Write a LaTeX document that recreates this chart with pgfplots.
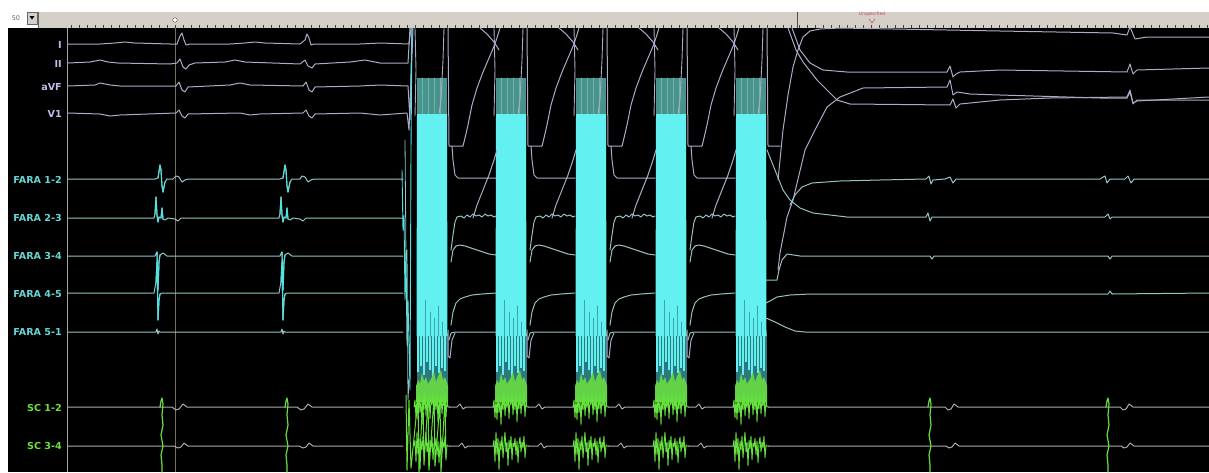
\documentclass[border=0pt]{standalone}
\usepackage{pgfplots}
\usepackage{pgfplotstable}
\pgfplotsset{compat=1.18}
\usepackage{fontspec}
\setmainfont{DejaVu Sans}
\definecolor{ecg}{RGB}{172,172,200}
\definecolor{faraLine}{RGB}{150,196,196}
\definecolor{faraSpike}{RGB}{80,225,225}
\definecolor{scLine}{RGB}{172,172,172}
\definecolor{scSpike}{RGB}{100,225,60}
\definecolor{cyanBlk}{RGB}{98,240,240}
\definecolor{tealBlk}{RGB}{72,148,140}
\definecolor{tealLite}{RGB}{110,180,172}
\definecolor{stripeDark}{RGB}{45,120,125}
\definecolor{stripeMid}{RGB}{60,165,172}
\definecolor{greenBlk}{RGB}{100,210,70}
\definecolor{barGrey}{RGB}{212,208,200}
\definecolor{ecgLab}{RGB}{190,190,232}
\definecolor{faraLab}{RGB}{100,214,214}
\definecolor{scLab}{RGB}{112,222,62}
\definecolor{cursorC}{RGB}{120,112,92}
\definecolor{unspec}{RGB}{190,70,110}

% ---------- block templates (x relative to the block's left edge) ----------
\pgfplotstableread{
x y
0 78
30 78
30 114
0 114
}\tealtbl
\pgfplotstableread{
x y
5 78
5 114
11 nan
11 78
11 114
17 nan
17 78
17 114
23 nan
23 78
23 114
}\teallines
\pgfplotstableread{
x y
0 114
30 114
30.5 336
-0.5 336
}\cyantbl
\pgfplotstableread{
x y
8 300
8 336
13 nan
13 312
13 336
17 nan
17 318
17 336
21 nan
21 306
21 336
25 nan
25 322
25 336
}\darklines
\pgfplotstableread{
x y
-0.5 334
30.5 334
30.5 388
-0.5 388
}\stripetbl
\pgfplotstableread{
x y
1 334
1 372
4 nan
4 334
4 366
7 nan
7 334
7 375
10 nan
10 334
10 362
13 nan
13 334
13 370
16 nan
16 334
16 376
19 nan
19 334
19 366
22 nan
22 334
22 373
25 nan
25 334
25 368
28 nan
28 334
28 371
}\cyanlines
\pgfplotstableread{
x y
-1 402
-1 386
1 380
3 384
5 373
7 381
9 377
11 384
14 379
17 372
19 382
21 376
24 370
26 380
28 377
31 386
31 402
}\greentbl
\pgfplotstableread{
x y
-3 407
-2 400
-1 418
0 398
1 420
2 395
3 413
4 399
5 425
6 396
7 410
8 392
9 416
10 398
11 408
12 395
13 419
14 399
15 405
16 393
17 415
18 397
19 410
20 394
21 422
22 398
23 409
24 395
25 414
26 399
27 406
28 394
29 417
30 400
31 407
33 407
}\scnoiseA
\pgfplotstableread{
x y
-3 446
-2 440
-1 462
0 432
1 455
2 438
3 470
4 441
5 450
6 436
7 458
8 444
9 432
10 452
11 442
12 466
13 440
14 449
15 436
16 460
17 443
18 447
19 438
20 455
21 441
22 463
23 444
24 437
25 452
26 442
27 448
28 436
29 458
30 445
31 446
33 446
}\scnoiseB
\pgfplotstableread{
x y
-2 28
-1 70
-2 116
27 nan
27 28
26 60
24 100
22 114
}\lavtbl

% ---------- gap templates (x relative to the block's right edge) ----------
\pgfplotstableread{
x y
1 28
2 146
16 146
18 138
21 125
25 105
30 88
36 72
42 58
48 44
53 28
33 nan
33 28
40 34
47 42
52 50
5 nan
5 146
6 160
8 175
11 178
49 178
26 nan
26 218
30 205
36 190
42 175
47 160
50 150
1 nan
1 330
1 356
3 358
5 340
8 333
}\gapgrey
\pgfplotstableread{
x y
4 250
6 235
8 222
10 217
14 216
17 218
20 215
23 217
26 214
29 216
32 215
35 217
38 214
41 216
44 215
47 217
49 216
4 nan
4 262
6 250
9 246
13 245
18 246
24 248
30 250
36 252
42 254
49 255
4 nan
4 325
6 312
9 303
13 299
18 297
25 295
35 294
49 293
2 nan
2 340
4 333
8 332
49 332
}\gapfara
\pgfplotstableread{
x y
2 407
10 407
13 404
16 409
19 407
49 407
2 nan
2 446
12 446
15 443
18 448
21 446
49 446
}\gapsc

\begin{document}
\begin{tikzpicture}
\begin{axis}[
  scale only axis, width=1209pt, height=472pt,
  xmin=0, xmax=1209, ymin=0, ymax=472, y dir=reverse,
  hide axis, clip=true, unbounded coords=jump,
  blk/.style={x filter/.expression={x+#1}},
  every axis plot/.append style={line join=round, line cap=round, mark=none},
  tr/.style={line width=1pt},
]
% backgrounds (decor)
\fill[white] (0,0) rectangle (1209,472);
\fill[barGrey] (38,12) rectangle (1209,28);
\draw[black!70, line width=0.6pt] (38,28) -- (1209,28);
\fill[black] (8,28) rectangle (1209,472);
\pgfplotsinvokeforeach{71,79,...,1207}{\draw[black!75, line width=0.5pt] (#1,25) -- (#1,28);}
\draw[black!70, line width=0.8pt] (797,12) -- (797,28);
\draw[black!60, line width=0.5pt] (38,12) -- (38,28);
\node[font=\fontsize{6.5}{7}\selectfont, text=black!60] at (16,18) {50};
\fill[barGrey] (27,12) rectangle (37,24);
\draw[black!60, line width=0.4pt] (27,12) rectangle (37,24);
\fill[black] (29.5,16) -- (34.5,16) -- (32,19.5) -- cycle;
\node[font=\fontsize{4.5}{5}\selectfont, text=unspec] at (872,14) {Unspecified};
\draw[unspec, line width=0.5pt] (869,19) -- (872,23) -- (875,19);
\draw[gray!70, line width=1pt] (67,28) -- (67,472);
\draw[cursorC, line width=0.8pt] (175,28) -- (175,472);
\draw[black!70, fill=white, line width=0.4pt] (175,20) circle (2.3pt);

% channel labels
\begin{scope}[every node/.style={anchor=east, font=\bfseries\fontsize{9.6}{10}\selectfont, inner sep=0pt}]
\node[text=ecgLab] at (62,45) {I};
\node[text=ecgLab] at (62,64) {II};
\node[text=ecgLab] at (62,87) {aVF};
\node[text=ecgLab] at (62,114) {V1};
\node[text=faraLab] at (62,180) {FARA 1-2};
\node[text=faraLab] at (62,218) {FARA 2-3};
\node[text=faraLab] at (62,256) {FARA 3-4};
\node[text=faraLab] at (62,294) {FARA 4-5};
\node[text=faraLab] at (62,332) {FARA 5-1};
\node[text=scLab] at (62,408) {SC 1-2};
\node[text=scLab] at (62,446) {SC 3-4};
\end{scope}

% ---------- surface ECG before ablation ----------
\addplot[ecg, tr] coordinates {(68,44) (100,44) (115,43) (125,42) (135,43) (170,44) (177,44) (180,36) (182,33) (184,40) (186,45) (190,44) (230,44) (245,43) (255,42) (265,43) (300,44) (305,40) (307,34) (309,38) (311,45) (314,44) (360,44) (380,43) (409,44) (411,28)};
\addplot[ecg, tr] coordinates {(68,63) (90,62) (100,60) (108,62) (118,63) (170,64) (177,63) (180,59) (183,67) (186,69) (189,65) (195,63) (225,62) (235,60) (245,62) (300,64) (305,60) (308,66) (312,68) (315,64) (350,62) (365,60) (380,63) (408,63) (410,28)};
\addplot[ecg, tr] coordinates {(68,86) (95,85) (100,83) (110,85) (120,86) (176,86) (179,82) (182,90) (185,92) (188,87) (230,85) (240,83) (250,85) (303,86) (306,82) (309,90) (312,92) (315,87) (360,86) (380,85) (408,86) (410,120) (412,28)};
\addplot[ecg, tr] coordinates {(68,113) (100,114) (110,116) (120,115) (176,113) (179,110) (182,116) (185,118) (188,114) (240,113) (250,115) (260,114) (303,113) (306,110) (309,116) (312,118) (315,114) (360,113) (380,115) (407,113) (409,130) (413,28)};

% ---------- intracardiac before ablation ----------
\addplot[faraLine, tr] coordinates {(68,179) (155,179) (158,178) (160,165) (161,170) (162,186) (163,192) (165,182) (167,179) (173,179) (176,176) (179,177) (182,182) (185,180) (188,179) (280,179) (283,178) (285,165) (286,170) (287,186) (288,192) (290,182) (292,179) (300,179) (302,176) (305,177) (308,182) (311,180) (314,179) (403,179)};
\addplot[faraLine, tr] coordinates {(68,218) (154,218) (155,214) (156,197) (157,215) (158,222) (159,217) (161,218) (162,208) (163,219) (165,220) (168,218) (175,219) (178,221) (181,218) (279,218) (280,214) (281,197) (282,215) (283,222) (284,217) (286,218) (287,208) (288,219) (290,220) (293,218) (300,219) (303,221) (306,218) (403,218)};
\addplot[faraLine, tr] coordinates {(68,256) (155,256) (156,254) (157,252) (158,290) (159,262) (160,255) (163,253) (167,256) (280,256) (281,254) (282,252) (283,290) (284,262) (285,255) (288,253) (292,256) (403,256)};
\addplot[faraLine, tr] coordinates {(68,293) (154,293) (156,282) (157,262) (158,320) (159,300) (160,294) (162,293) (279,293) (281,282) (282,262) (283,320) (284,300) (285,294) (287,293) (403,293)};
\addplot[faraLine, tr] coordinates {(68,332) (156,332) (157,329) (158,334) (159,331) (160,332) (281,332) (282,329) (283,334) (284,331) (285,332) (403,332)};
\addplot[faraSpike, line width=1.1pt] coordinates {(158,178) (160,165) (161,170) (162,186) (163,192) (165,182) (155,nan) (155,214) (156,197) (157,215) (158,222) (159,217) (161,218) (162,208) (163,219) (156,nan) (156,254) (157,252) (158,290) (159,262) (160,255) (156,nan) (156,282) (157,262) (158,320) (159,300) (160,294) (283,nan) (283,178) (285,165) (286,170) (287,186) (288,192) (290,182) (280,nan) (280,214) (281,197) (282,215) (283,222) (284,217) (286,218) (287,208) (288,219) (281,nan) (281,254) (282,252) (283,290) (284,262) (285,255) (281,nan) (281,282) (282,262) (283,320) (284,300) (285,294)};

\addplot[scLine, tr] coordinates {(68,407) (159,407) (165,407) (172,407) (176,410) (179,409) (183,404) (187,407) (284,407) (290,407) (297,407) (301,410) (304,409) (308,404) (312,407) (403,407)};
\addplot[scLine, tr] coordinates {(68,446) (159,446) (165,446) (174,446) (178,448) (181,447) (184,443) (188,446) (284,446) (290,446) (299,446) (303,448) (306,447) (309,443) (313,446) (403,446)};
\addplot[scSpike, line width=1.2pt] coordinates {(160,407) (161,401) (162,398) (163,404) (162,415) (163,425) (161,435) (163,446) (161,455) (162,465) (162,472) (285,nan) (285,407) (286,401) (287,398) (288,404) (287,415) (288,425) (286,435) (288,446) (286,455) (287,465) (287,472)};

% pre-block clutter
\addplot[faraSpike, line width=0.9pt] coordinates {(402,170) (403,230) (404,215) (405,300) (406,250) (407,345) (408,300) (410,390) (411,150) (412,28)};
\addplot[faraLine, line width=0.8pt] coordinates {(405,140) (406,260) (407,250) (408,400) (409,380)};

% ---------- stimulation blocks ----------
\addplot[fill=stripeDark, draw=none, blk=417] table {\stripetbl};
\addplot[fill=stripeDark, draw=none, blk=496] table {\stripetbl};
\addplot[fill=stripeDark, draw=none, blk=576] table {\stripetbl};
\addplot[fill=stripeDark, draw=none, blk=656] table {\stripetbl};
\addplot[fill=stripeDark, draw=none, blk=736] table {\stripetbl};
\addplot[cyanBlk, line width=2pt, line cap=butt, blk=417] table {\cyanlines};
\addplot[cyanBlk, line width=2pt, line cap=butt, blk=496] table {\cyanlines};
\addplot[cyanBlk, line width=2pt, line cap=butt, blk=576] table {\cyanlines};
\addplot[cyanBlk, line width=2pt, line cap=butt, blk=656] table {\cyanlines};
\addplot[cyanBlk, line width=2pt, line cap=butt, blk=736] table {\cyanlines};
\addplot[fill=tealBlk, draw=none, blk=417] table {\tealtbl};
\addplot[fill=tealBlk, draw=none, blk=496] table {\tealtbl};
\addplot[fill=tealBlk, draw=none, blk=576] table {\tealtbl};
\addplot[fill=tealBlk, draw=none, blk=656] table {\tealtbl};
\addplot[fill=tealBlk, draw=none, blk=736] table {\tealtbl};
\addplot[tealLite, line width=1pt, blk=417] table {\teallines};
\addplot[tealLite, line width=1pt, blk=496] table {\teallines};
\addplot[tealLite, line width=1pt, blk=576] table {\teallines};
\addplot[tealLite, line width=1pt, blk=656] table {\teallines};
\addplot[tealLite, line width=1pt, blk=736] table {\teallines};
\addplot[fill=cyanBlk, draw=none, blk=417] table {\cyantbl};
\addplot[fill=cyanBlk, draw=none, blk=496] table {\cyantbl};
\addplot[fill=cyanBlk, draw=none, blk=576] table {\cyantbl};
\addplot[fill=cyanBlk, draw=none, blk=656] table {\cyantbl};
\addplot[fill=cyanBlk, draw=none, blk=736] table {\cyantbl};
\addplot[stripeMid, line width=1pt, blk=417] table {\darklines};
\addplot[stripeMid, line width=1pt, blk=496] table {\darklines};
\addplot[stripeMid, line width=1pt, blk=576] table {\darklines};
\addplot[stripeMid, line width=1pt, blk=656] table {\darklines};
\addplot[stripeMid, line width=1pt, blk=736] table {\darklines};
\addplot[fill=greenBlk, draw=none, blk=417] table {\greentbl};
\addplot[fill=greenBlk, draw=none, blk=496] table {\greentbl};
\addplot[fill=greenBlk, draw=none, blk=576] table {\greentbl};
\addplot[fill=greenBlk, draw=none, blk=656] table {\greentbl};
\addplot[fill=greenBlk, draw=none, blk=736] table {\greentbl};
\addplot[scSpike, line width=0.9pt, blk=417] table {\scnoiseA};
\addplot[scSpike, line width=0.9pt, blk=496] table {\scnoiseA};
\addplot[scSpike, line width=0.9pt, blk=576] table {\scnoiseA};
\addplot[scSpike, line width=0.9pt, blk=656] table {\scnoiseA};
\addplot[scSpike, line width=0.9pt, blk=736] table {\scnoiseA};
\addplot[scSpike, line width=0.9pt, blk=417] table {\scnoiseB};
\addplot[scSpike, line width=0.9pt, blk=496] table {\scnoiseB};
\addplot[scSpike, line width=0.9pt, blk=576] table {\scnoiseB};
\addplot[scSpike, line width=0.9pt, blk=656] table {\scnoiseB};
\addplot[scSpike, line width=0.9pt, blk=736] table {\scnoiseB};
\addplot[scSpike, line width=1pt] coordinates {(406,395) (407,470) (409,400) (411,468) (418,398) (419,472) (423,396) (424,465) (428,400) (429,470) (434,397) (435,466) (440,402) (441,472) (445,398) (446,460)};
\addplot[ecg, line width=0.9pt, blk=417] table {\lavtbl};
\addplot[ecg, line width=0.9pt, blk=496] table {\lavtbl};
\addplot[ecg, line width=0.9pt, blk=576] table {\lavtbl};
\addplot[ecg, line width=0.9pt, blk=656] table {\lavtbl};
\addplot[ecg, line width=0.9pt, blk=736] table {\lavtbl};

% ---------- traces between blocks ----------
\addplot[ecg, tr, blk=447] table {\gapgrey};
\addplot[ecg, tr, blk=526] table {\gapgrey};
\addplot[ecg, tr, blk=606] table {\gapgrey};
\addplot[ecg, tr, blk=686] table {\gapgrey};
\addplot[faraLine, tr, blk=447] table {\gapfara};
\addplot[faraLine, tr, blk=526] table {\gapfara};
\addplot[faraLine, tr, blk=606] table {\gapfara};
\addplot[faraLine, tr, blk=686] table {\gapfara};
\addplot[scLine, tr, blk=447] table {\gapsc};
\addplot[scLine, tr, blk=526] table {\gapsc};
\addplot[scLine, tr, blk=606] table {\gapsc};
\addplot[scLine, tr, blk=686] table {\gapsc};

% ---------- after the last block ----------
\addplot[ecg, tr] coordinates {(767,28) (768,146) (780,146)};
\addplot[ecg, tr] coordinates {(778,180) (783,130) (788,95) (793,67) (798,50) (803,37) (810,31) (820,29) (840,28) (947,30) (1000,31) (1113,33) (1127,35) (1130,27) (1135,39) (1147,37) (1209,37)};
\addplot[ecg, tr] coordinates {(792,28) (800,50) (810,63) (823,70) (847,72) (947,72) (950,66) (953,77) (956,74) (960,72) (1000,70) (1127,72) (1130,64) (1133,74) (1137,70) (1209,68)};
\addplot[ecg, tr] coordinates {(788,28) (796,50) (803,62) (817,80) (837,100) (850,104) (950,105) (953,99) (956,108) (960,104) (1000,100) (1050,98) (1127,97) (1130,90) (1133,103) (1137,101) (1209,97)};
\addplot[ecg, tr] coordinates {(778,270) (780,253) (787,217) (793,200) (805,150) (815,130) (827,107) (840,97) (863,88) (947,87) (950,80) (953,95) (957,92) (970,94) (1000,95) (1100,98) (1127,98) (1130,92) (1133,104) (1137,100) (1209,100)};
\addplot[faraLine, tr] coordinates {(790,205) (795,195) (802,187) (812,183) (840,181) (880,180) (926,179) (929,176) (931,184) (933,180) (945,179) (950,177) (953,183) (956,179) (1100,179) (1105,176) (1107,183) (1110,179) (1125,179) (1128,176) (1131,183) (1134,179) (1209,179)};
\addplot[faraLine, tr] coordinates {(767,150) (775,170) (783,190) (790,200) (800,208) (813,213) (847,217) (926,217) (928,213) (930,221) (932,217) (950,217) (1105,217) (1108,214) (1110,219) (1112,217) (1209,217)};
\addplot[faraLine, tr] coordinates {(766,280) (777,280) (779,270) (782,260) (787,254) (800,256) (930,256) (932,259) (934,256) (1108,256) (1110,259) (1112,256) (1209,256)};
\addplot[faraLine, tr] coordinates {(766,303) (770,301) (777,297) (790,295) (810,294) (1108,294) (1110,291) (1112,294) (1209,293)};
\addplot[faraLine, tr] coordinates {(766,318) (775,322) (785,327) (795,331) (805,332) (1209,332)};
\addplot[scLine, tr] coordinates {(768,407) (926,407) (934,407) (945,407) (948,410) (951,409) (954,404) (958,407) (1104,407) (1112,407) (1120,407) (1123,410) (1126,409) (1129,404) (1133,407) (1209,407)};
\addplot[scLine, tr] coordinates {(768,446) (926,446) (934,446) (946,446) (949,448) (952,447) (955,443) (959,446) (1104,446) (1112,446) (1121,446) (1124,448) (1127,447) (1130,443) (1134,446) (1209,446)};
\addplot[scSpike, line width=1.2pt] coordinates {(928,407) (929,401) (930,398) (931,404) (930,415) (931,425) (929,435) (931,446) (929,455) (930,465) (930,472) (1106,nan) (1106,407) (1107,401) (1108,398) (1109,404) (1108,415) (1109,425) (1107,435) (1109,446) (1107,455) (1108,465) (1108,472)};
\end{axis}
\end{tikzpicture}
\end{document}
